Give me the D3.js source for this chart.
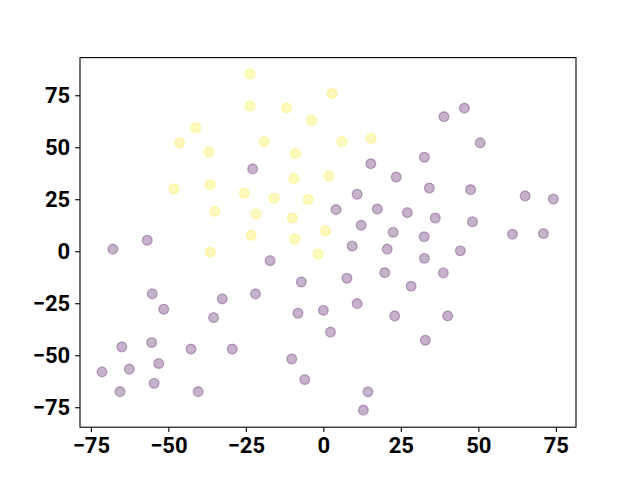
<!DOCTYPE html>
<html>
<head>
<meta charset="utf-8">
<script src="https://cdn.jsdelivr.net/npm/d3@7"></script>
<style>
html,body{margin:0;padding:0;background:#fff;}
svg{display:block;}
.tick text{font-family:Roboto,"Liberation Sans",Arial,sans-serif;font-weight:bold;font-size:22px;fill:#000;}
</style>
</head>
<body>
<svg id="chart" width="640" height="480"></svg>
<script>
const purpleX = [-67.9,-56.8,-22.8,-17.2,-7.1,-55.2,-21.9,-51.5,-32.6,-35.4,-8.2,0.0,2.3,-65.0,-55.4,-42.7,-29.4,-10.2,-53.1,-71.4,-62.6,-6.0,-54.6,-65.6,-40.4,14.4,12.9,7.6,10.9,19.8,28.3,38.7,23.0,40.1,32.9,9.3,20.6,32.5,32.6,44.2,38.9,45.5,50.6,32.6,15.3,23.5,10.9,34.2,47.5,65.1,74.2,4.1,17.4,27.1,36.1,48.1,12.2,22.5,61.0,71.0];
const purpleY = [1.0,5.3,39.6,-4.5,-14.8,-20.5,-20.5,-27.9,-22.9,-31.9,-29.8,-28.4,-38.9,-46.0,-43.9,-47.0,-47.0,-51.8,-54.0,-58.0,-56.7,-61.7,-63.5,-67.5,-67.5,-67.6,-76.4,-13.0,-25.2,-10.3,-16.8,-10.4,-31.1,-31.1,-42.8,2.5,1.0,7.0,-3.4,0.2,64.7,68.8,52.1,45.2,42.1,35.7,27.4,30.4,29.6,26.6,25.1,20.0,20.3,18.6,16.0,14.2,12.5,9.1,8.2,8.5];
const yellowX = [-23.6,-23.6,2.8,-11.9,-3.8,-41.2,-46.4,-19.1,6.0,15.4,-36.9,-9.0,1.8,-48.2,-36.5,-9.5,-25.5,-15.9,-4.9,-35.0,-21.7,-10.0,0.7,-23.3,-9.2,-36.5,-1.7];
const yellowY = [85.2,69.8,75.8,68.9,62.9,59.3,52.0,52.7,52.7,54.3,47.7,47.0,36.2,30.0,32.0,34.9,28.0,25.5,24.8,19.2,17.9,16.0,9.8,7.7,5.9,-0.4,-1.3];
const xTicks = [-75,-50,-25,0,25,50,75];
const yTicks = [-75,-50,-25,0,25,50,75];

const svg = d3.select("#chart");
const L=80, R=576, T=57.6, B=427.2;
const x = d3.scaleLinear().domain([-78.5,81.5]).range([L,R]);
const y = d3.scaleLinear().domain([-84.6,93.1]).range([B,T]);
const fmt = d => (d<0 ? "\u2212"+Math.abs(d) : String(d));

const pts = purpleX.map((v,i)=>({x:v,y:purpleY[i],c:0}))
  .concat(yellowX.map((v,i)=>({x:v,y:yellowY[i],c:1})));
const col = c => c===0 ? "#440154" : "#fde725";

svg.append("g").selectAll("circle").data(pts).enter().append("circle")
  .attr("cx",d=>x(d.x)).attr("cy",d=>y(d.y)).attr("r",4.9)
  .attr("fill",d=>col(d.c)).attr("fill-opacity",0.3)
  .attr("stroke",d=>col(d.c)).attr("stroke-opacity",0.3).attr("stroke-width",1.3);

svg.append("rect").attr("x",L).attr("y",T).attr("width",R-L).attr("height",B-T)
  .attr("fill","none").attr("stroke","#000").attr("stroke-width",1.1);

const ax = svg.append("g").attr("transform",`translate(0,${B})`)
  .call(d3.axisBottom(x).tickValues(xTicks).tickFormat(fmt).tickSize(4.9).tickPadding(4.9));
const ay = svg.append("g").attr("transform",`translate(${L},0)`)
  .call(d3.axisLeft(y).tickValues(yTicks).tickFormat(fmt).tickSize(4.9).tickPadding(4.9));
[ax,ay].forEach(g=>{
  g.select(".domain").remove();
  g.selectAll(".tick line").attr("stroke","#000").attr("stroke-width",1.1);
  g.selectAll(".tick text").attr("font-family",null).attr("font-size",null);
});
</script>
</body>
</html>
